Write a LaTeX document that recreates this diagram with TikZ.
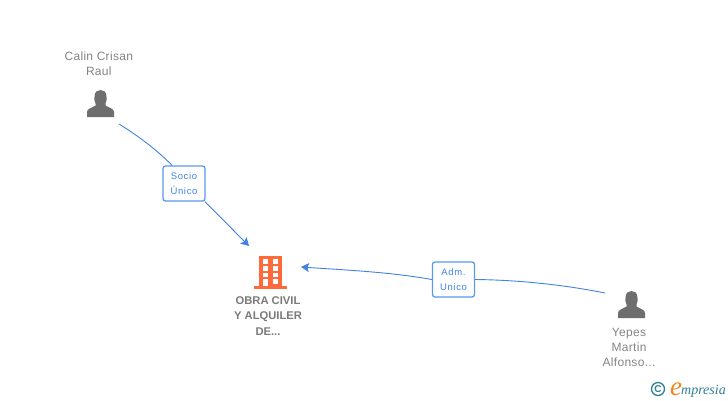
\documentclass[tikz,border=0pt]{standalone}
\usepackage{fontspec}
\setmainfont{Liberation Sans}
\newfontfamily\spacedfont[LetterSpace=2.5]{Liberation Sans}
\newfontfamily\boxfont[LetterSpace=7]{Liberation Sans}
\newfontfamily\logofont{Liberation Serif}
\usetikzlibrary{arrows.meta}
\definecolor{persongray}{HTML}{6E6E6E}
\definecolor{labelgray}{HTML}{858585}
\definecolor{titlegray}{HTML}{7A7A7A}
\definecolor{linkblue}{HTML}{3F83E4}
\definecolor{boxblue}{HTML}{5A9AEC}
\definecolor{buildorange}{HTML}{FF6A3C}
\definecolor{logoteal}{HTML}{2F7F96}
\definecolor{logoorange}{HTML}{F0861E}
\tikzset{
  x=1pt,y=-1pt,
  personlabel/.style={align=center,text=labelgray,font=\fontsize{12}{15}\selectfont\spacedfont,inner sep=0pt},
  companylabel/.style={align=center,text=titlegray,font=\fontsize{11.2}{15.2}\selectfont\bfseries,inner sep=0pt},
  rolebox/.style={draw=boxblue,line width=1.3pt,rounded corners=2.5pt,fill=white,text=linkblue,
    minimum width=42pt,minimum height=35pt,inner sep=0pt,align=center,font=\fontsize{9.5}{15}\selectfont\boxfont},
  link/.style={draw=linkblue,line width=0.9pt},
  linkarrow/.style={link,-{Stealth[length=8pt,width=9pt,inset=1.5pt]}},
  person/.pic={
    \fill[persongray] (-13.5,10) -- (-13.5,5) .. controls (-13.5,1.5) and (-9,1) .. (-5,-1.5)
      .. controls (-4.5,-2.5) and (-4.5,-3) .. (-5,-3.5) .. controls (-6.5,-6) and (-6,-8) .. (-6,-10)
      .. controls (-6,-15.5) and (-3,-17) .. (0,-17) .. controls (3,-17) and (6,-15.5) .. (6,-10)
      .. controls (6,-8) and (6.5,-6) .. (5,-3.5) .. controls (4.5,-3) and (4.5,-2.5) .. (5,-1.5)
      .. controls (9,1) and (13.5,1.5) .. (13.5,5) -- (13.5,10) -- cycle;
  },
}
\begin{document}
\begin{tikzpicture}
\useasboundingbox[fill=white] (0,0) rectangle (728,400);

% people
\pic at (100.5,107) {person};
\pic at (631.5,308) {person};
\node[personlabel] (calin) at (98.8,63.5) {Calin Crisan\\Raul};
\node[personlabel] (yepes) at (629,347) {Yepes\\Martin\\Alfonso...};

% building
\fill[buildorange] (259,255.5) rectangle (282,286);
\fill[buildorange] (254,285.5) rectangle (286.5,288.5);
\foreach \yy in {259,266,272.5,279}{
  \fill[white] (263,\yy) rectangle (268,\yy+4.5);
  \fill[white] (272.5,\yy) rectangle (277.5,\yy+4.5);
}
\fill[white] (263,279) rectangle (268,285.5);
\node[companylabel] (company) at (268,316) {OBRA CIVIL\\Y ALQUILER\\DE...};

% connector ends
\coordinate (calinend) at (119,124);
\coordinate (yepesend) at (605,293);
\coordinate (companytop) at (249,246);
\coordinate (companyright) at (301,267);

% role boxes
\node[rolebox] (socio) at (184,183.5) {Socio\\Único};
\node[rolebox] (adm) at (453.5,279.5) {Adm.\\Unico};

% connectors
\draw[link] (calinend) .. controls (140,137) and (158,151) .. (socio.north west -| 172,166);
\draw[linkarrow] (socio.south east -| 205,200) -- (companytop);
\draw[link] (yepesend) .. controls (565,285) and (520,280) .. (adm.east);
\draw[linkarrow] (adm.west) .. controls (390,272) and (345,270) .. (companyright);

% logo
\node[draw=logoteal,line width=1.3pt,circle,minimum size=13pt,inner sep=0pt,text=logoteal,font=\fontsize{10}{10}\selectfont\bfseries] (copyright) at (658,389) {C};
\node[anchor=base west,inner sep=0pt,text=logoorange,font=\fontsize{27}{27}\selectfont\logofont\itshape] (logoe) at (670,395) {e};
\node[anchor=base west,inner sep=0pt,text=logoteal,font=\fontsize{14}{14}\selectfont\logofont\itshape] (logotext) at (681,394) {mpresia};
\end{tikzpicture}
\end{document}
